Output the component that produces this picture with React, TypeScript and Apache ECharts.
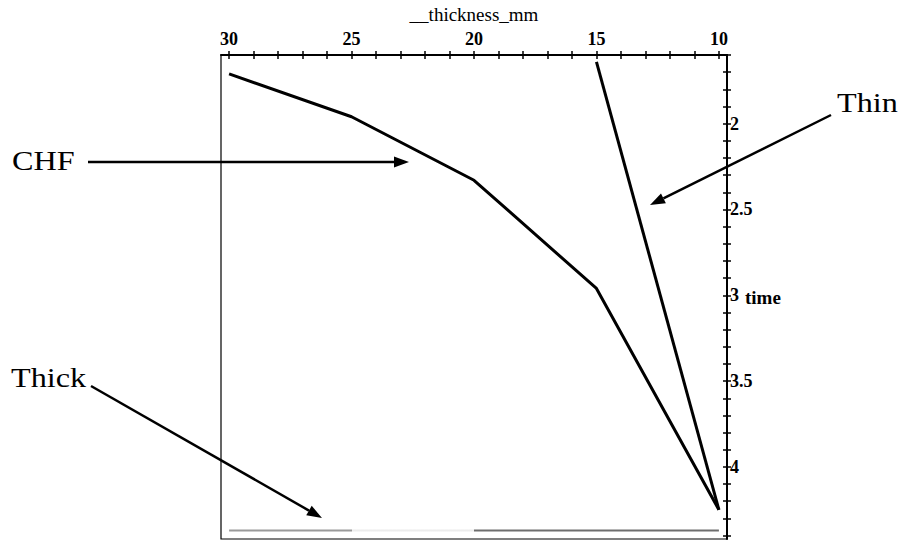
import React, { useEffect, useRef } from "react";
import * as echarts from "echarts";

// ---- data ----
const chfThickness = [30, 25, 20, 15, 10];
const chfTime = [1.71, 1.96, 2.33, 2.96, 4.25];

const thinThickness = [15, 10];
const thinTime = [1.64, 4.25];

const thickThickness = [30, 25, 20, 15, 10];
const thickTime = [4.37, 4.37, 4.37, 4.37, 4.37];

// ---- tick labels ----
const xLabelValues = [30, 25, 20, 15, 10];
const xTickValues = [30, 29, 28, 27, 26, 25, 24, 23, 22, 21, 20, 19, 18, 17, 16, 15, 14, 13, 12, 11, 10];
const yLabelValues = [2, 2.5, 3, 3.5, 4];
const yTickValues = [
  1.6, 1.7, 1.8, 1.9, 2.0, 2.1, 2.2, 2.3, 2.4, 2.5, 2.6, 2.7, 2.8, 2.9, 3.0,
  3.1, 3.2, 3.3, 3.4, 3.5, 3.6, 3.7, 3.8, 3.9, 4.0, 4.1, 4.2, 4.3, 4.4,
];

const FONT = "'Liberation Serif', 'Times New Roman', serif";

function arrow(x1: number, y1: number, x2: number, y2: number) {
  const ang = Math.atan2(y2 - y1, x2 - x1);
  const len = 15;
  const half = 5.5;
  const bx = x2 - len * Math.cos(ang);
  const by = y2 - len * Math.sin(ang);
  const px = -Math.sin(ang) * half;
  const py = Math.cos(ang) * half;
  return [
    {
      type: "line",
      shape: { x1, y1, x2: bx, y2: by },
      style: { stroke: "#000", lineWidth: 2.5 },
      silent: true,
    },
    {
      type: "polygon",
      shape: {
        points: [
          [x2, y2],
          [bx + px, by + py],
          [bx - px, by - py],
        ],
      },
      style: { fill: "#000" },
      silent: true,
    },
  ];
}

function annot(text: string, x: number, y: number) {
  return {
    type: "text",
    x,
    y,
    scaleX: 1.15,
    style: {
      text,
      fontFamily: FONT,
      fontSize: 28,
      fill: "#000",
      textVerticalAlign: "middle",
      textAlign: "left",
    },
    silent: true,
  };
}

export default function App() {
  const ref = useRef<HTMLDivElement>(null);

  useEffect(() => {
    if (!ref.current) return;
    const chart = echarts.init(ref.current, undefined, { renderer: "svg" });

    const axisTextStyle = {
      fontFamily: FONT,
      fontSize: 18,
      fontWeight: "bold" as const,
      color: "#000",
    };

    const xCommon = {
      type: "value" as const,
      position: "top" as const,
      inverse: true,
      min: 9.67,
      max: 30.33,
      splitLine: { show: false },
    };
    const yCommon = {
      type: "value" as const,
      position: "right" as const,
      inverse: true,
      min: 1.6,
      max: 4.42,
      splitLine: { show: false },
    };

    chart.setOption({
      animation: false,
      backgroundColor: "#fff",
      grid: {
        left: 221,
        right: 174,
        top: 52,
        bottom: 1,
        show: true,
        borderColor: "#000",
        borderWidth: 1.2,
        backgroundColor: "transparent",
      },
      xAxis: [
        {
          ...xCommon,
          axisLine: { show: true, lineStyle: { color: "#000", width: 2 } },
          axisTick: {
            show: true,
            inside: false,
            length: 4,
            customValues: xTickValues,
            lineStyle: { color: "#000", width: 1.5 },
          },
          axisLabel: { ...axisTextStyle, customValues: xLabelValues, margin: 7 },
          name: "__thickness_mm",
          nameLocation: "middle",
          nameGap: 31,
          nameMoveOverlap: false,
          nameTextStyle: { ...axisTextStyle, fontSize: 19, fontWeight: "normal" },
        },
        {
          ...xCommon,
          axisLine: { show: false },
          axisTick: {
            show: true,
            inside: true,
            length: 4,
            customValues: xTickValues,
            lineStyle: { color: "#000", width: 1.5 },
          },
          axisLabel: { show: false },
        },
      ],
      yAxis: [
        {
          ...yCommon,
          axisLine: { show: true, lineStyle: { color: "#000", width: 2 } },
          axisTick: {
            show: true,
            inside: false,
            length: 4,
            customValues: yTickValues,
            lineStyle: { color: "#000", width: 1.5 },
          },
          axisLabel: { ...axisTextStyle, customValues: yLabelValues, margin: 3 },
          name: "time",
          nameLocation: "middle",
          nameRotate: 0,
          nameGap: 18,
          nameMoveOverlap: false,
          nameTextStyle: { ...axisTextStyle, fontSize: 19, padding: [0, 0, 7, 0] },
        },
        {
          ...yCommon,
          axisLine: { show: false },
          axisTick: {
            show: true,
            inside: true,
            length: 4,
            customValues: yTickValues,
            lineStyle: { color: "#000", width: 1.5 },
          },
          axisLabel: { show: false },
        },
      ],
      visualMap: {
        show: false,
        type: "piecewise",
        seriesIndex: 2,
        dimension: 0,
        pieces: [
          { gte: 25, lte: 31, color: "#9a9a9a" },
          { gt: 20, lt: 25, color: "#ececec" },
          { gte: 9, lte: 20, color: "#6e6e6e" },
        ],
      },
      series: [
        {
          name: "CHF",
          type: "line",
          symbol: "none",
          data: chfThickness.map((x, i) => [x, chfTime[i]]),
          lineStyle: { color: "#000", width: 3 },
        },
        {
          name: "Thin",
          type: "line",
          symbol: "none",
          data: thinThickness.map((x, i) => [x, thinTime[i]]),
          lineStyle: { color: "#000", width: 3 },
        },
        {
          name: "Thick",
          type: "line",
          symbol: "none",
          data: thickThickness.map((x, i) => [x, thickTime[i]]),
          lineStyle: { width: 2 },
        },
      ],
      graphic: [
        annot("CHF", 12, 161),
        annot("Thin", 837, 103),
        annot("Thick", 11, 378),
        ...arrow(88, 162, 409, 162),
        ...arrow(831, 115, 650, 205),
        ...arrow(91, 386, 322, 518),
      ],
    });

    return () => chart.dispose();
  }, []);

  return (
    <div
      ref={ref}
      style={{ position: "absolute", left: 0, top: 0, width: 901, height: 540 }}
    />
  );
}
